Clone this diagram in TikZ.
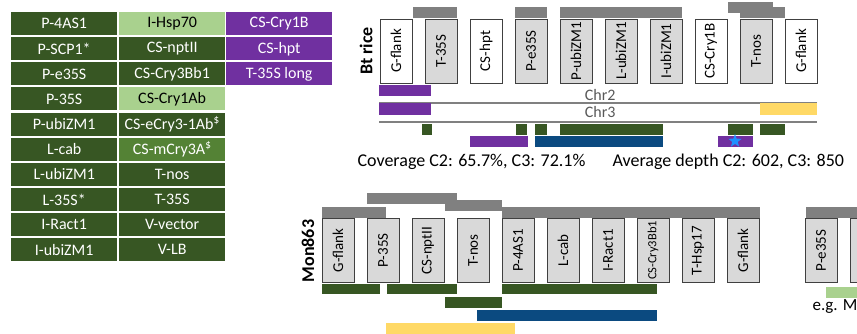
\documentclass[tikz,border=0pt]{standalone}
\usepackage{fontspec}
\setmainfont{Carlito}
\usetikzlibrary{shapes.geometric}

\definecolor{dkgreen}{HTML}{375623}
\definecolor{ltgreen}{HTML}{A9D18E}
\definecolor{mdgreen}{HTML}{548235}
\definecolor{cspurple}{HTML}{7030A0}
\definecolor{csblue}{HTML}{0B4A80}
\definecolor{csyellow}{HTML}{FFD966}
\definecolor{bargray}{HTML}{808080}
\definecolor{boxgray}{HTML}{D9D9D9}
\definecolor{boxline}{HTML}{404040}
\definecolor{chrgray}{HTML}{595959}
\definecolor{starblue}{HTML}{1E90FF}

\tikzset{
  cell/.style={rectangle, inner sep=0pt, minimum width=106pt, minimum height=23pt,
    anchor=north west, font=\fontsize{16}{16}\selectfont},
  dkg/.style={cell, fill=dkgreen, text=white},
  ltg/.style={cell, fill=ltgreen, text=black},
  mdg/.style={cell, fill=mdgreen, text=white},
  ppl/.style={cell, fill=cspurple, text=white},
  elem/.style={draw=boxline, line width=0.8pt, rotate=90, minimum width=64pt,
    minimum height=32pt, inner sep=0pt, font=\fontsize{15}{15}\selectfont},
  gbox/.style={elem, fill=boxgray},
  wbox/.style={elem, fill=white},
  chrline/.style={draw=bargray, line width=1.2pt},
  rowlabel/.style={rotate=90, font=\fontsize{18}{18}\selectfont\bfseries}
}

\begin{document}
\begin{tikzpicture}[x=1pt, y=-1pt]
\useasboundingbox (0,0) rectangle (857,334);

% legend
\foreach \txt [count=\i from 0] in {P-4AS1,P-SCP1*,P-e35S,P-35S,P-ubiZM1,L-cab,L-ubiZM1,L-35S*,I-Ract1,I-ubiZM1}
  \node[dkg] (lga\i) at (11,12+25.1*\i) {\txt};
\foreach \txt/\sty [count=\i from 0] in {I-Hsp70/ltg,CS-nptII/dkg,CS-Cry3Bb1/dkg,CS-Cry1Ab/ltg,
    {CS-eCry3-1Ab\textsuperscript{\$}}/dkg,{CS-mCry3A\textsuperscript{\$}}/mdg,T-nos/dkg,T-35S/dkg,V-vector/dkg,V-LB/dkg}
  \node[\sty] (lgb\i) at (119,12+25.1*\i) {\txt};
\foreach \txt [count=\i from 0] in {CS-Cry1B,CS-hpt,T-35S long}
  \node[ppl] (lgc\i) at (226,12+25.1*\i) {\txt};

% Bt rice
\node[rowlabel] (btname) at (366,51) {Bt rice};
\fill[bargray] (413,7) rectangle (457,18);
\fill[bargray] (515,7) rectangle (547,18);
\fill[bargray] (560,7) rectangle (682,18);
\fill[bargray] (728,2) rectangle (773,13);
\fill[bargray] (740,7) rectangle (785,18);
\foreach \lbl/\sty [count=\i from 0] in {G-flank/wbox,T-35S/gbox,CS-hpt/wbox,P-e35S/gbox,P-ubiZM1/gbox,
    L-ubiZM1/gbox,I-ubiZM1/gbox,CS-Cry1B/wbox,T-nos/gbox,G-flank/wbox}
  \node[\sty] (bt\i) at (396+45*\i,51) {\lbl};

\fill[cspurple] (379,85) rectangle (431,96);
\node[anchor=east, text=chrgray, font=\fontsize{16}{16}\selectfont] (chr2) at (619,95) {Chr2};
\draw[chrline] (379,103) -- (817,103);
\fill[cspurple] (379,103) rectangle (431,115);
\fill[csyellow] (760,103) rectangle (817,115);
\node[anchor=east, text=chrgray, font=\fontsize{16}{16}\selectfont] (chr3) at (619,112) {Chr3};
\draw[chrline] (379,122) -- (817,122);
% reads
\foreach \a/\b in {422/432,516/527,535/547,560/663,728/753,760/785}
  \fill[dkgreen] (\a,124) rectangle (\b,135);
\fill[cspurple] (470,136) rectangle (528,147);
\fill[csblue] (535,136) rectangle (663,147);
\fill[cspurple] (718,136) rectangle (753,147);
\node[star, star points=5, star point ratio=2.4, fill=starblue, inner sep=0pt, minimum size=14pt] (btstar) at (735,141) {};

\node[anchor=west, font=\fontsize{18}{18}\selectfont] (cov) at (354,162) {Coverage C2: 65.7\%, C3: 72.1\%};
\node[anchor=west, font=\fontsize{18}{18}\selectfont] (depth) at (609,162) {Average depth C2: 602, C3: 850};

% Mon863
\node[rowlabel] (monname) at (308,251) {Mon863};
\fill[bargray] (367,193) rectangle (457,204);
\fill[bargray] (445,200) rectangle (502,211);
\fill[bargray] (322,207) rectangle (386,218);
\fill[bargray] (502,207) rectangle (760,218);
\fill[bargray] (806,207) rectangle (870,218);
\foreach \lbl [count=\i from 0] in {G-flank,P-35S,CS-nptII,T-nos,P-4AS1,L-cab,I-Ract1,
    {\fontsize{12.5}{12.5}\selectfont CS-Cry3Bb1},T-Hsp17,G-flank}
  \node[gbox] (mon\i) at (338+45*\i,250.5) {\lbl};
\node[gbox] (ex0) at (821,250.5) {P-e35S};
\node[gbox] (ex1) at (866,250.5) {};

\fill[dkgreen] (322,284) rectangle (380,294);
\fill[dkgreen] (387,284) rectangle (457,294);
\fill[dkgreen] (502,284) rectangle (657,294);
\fill[dkgreen] (445,297) rectangle (502,308);
\fill[csblue] (477,310) rectangle (657,321);
\fill[csyellow] (386,323) rectangle (515,340);
\fill[ltgreen] (826,287) rectangle (870,298);
\node[anchor=west, font=\fontsize{17}{17}\selectfont] (eg) at (809,307) {e.g. M};
\end{tikzpicture}
\end{document}
